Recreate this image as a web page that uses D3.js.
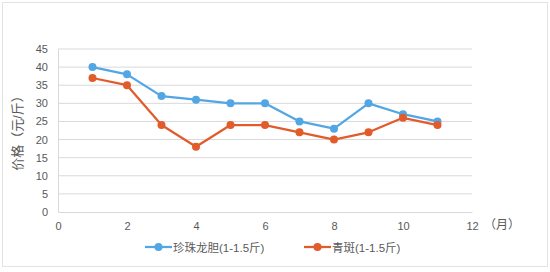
<!DOCTYPE html>
<html><head><meta charset="utf-8">
<script src="https://cdn.jsdelivr.net/npm/d3@7"></script>
<style>body{margin:0;background:#fff;}svg{display:block;}</style>
</head><body>
<svg id="c" width="550" height="272"></svg>
<script>
const months = [1,2,3,4,5,6,7,8,9,10,11];
const pearl = [40,38,32,31,30,30,25,23,30,27,25];
const qingban = [37,35,24,18,24,24,22,20,22,26,24];
const xTicks = [0,2,4,6,8,10,12];
const yTicks = [0,5,10,15,20,25,30,35,40,45];
const seriesNames = ["珍珠龙胆(1-1.5斤)","青斑(1-1.5斤)"];
const colors = ["#53A6E4","#E25B2B"];

const svg = d3.select("#c");
const font = "'Liberation Sans','Noto Sans CJK SC',sans-serif";
svg.append("rect").attr("x",2.5).attr("y",2.5).attr("width",545).attr("height",264)
  .attr("fill","#fff").attr("stroke","#e3e3e3");

const x = d3.scaleLinear().domain([0,12]).range([58,472]);
const y = d3.scaleLinear().domain([0,45]).range([212,49]);

svg.append("g").selectAll("line").data(yTicks.filter(d=>d>0)).join("line")
  .attr("x1",x(0)).attr("x2",x(12)).attr("y1",d=>y(d)).attr("y2",d=>y(d))
  .attr("stroke","#d9d9d9").attr("stroke-width",1);

const yAxis = svg.append("g").attr("transform",`translate(${x(0)},0)`)
  .call(d3.axisLeft(y).tickValues(yTicks).tickSize(0).tickPadding(10));
yAxis.select(".domain").attr("stroke","#d9d9d9");
yAxis.selectAll("text").attr("fill","#595959").attr("font-size",11).attr("font-family",font);

const xAxis = svg.append("g").attr("transform",`translate(0,${y(0)})`)
  .call(d3.axisBottom(x).tickValues(xTicks).tickSize(0).tickPadding(10));
xAxis.select(".domain").attr("stroke","#d9d9d9");
xAxis.selectAll("text").attr("fill","#595959").attr("font-size",11).attr("font-family",font);

svg.append("text").attr("x",484).attr("y",229).attr("fill","#595959")
  .attr("font-size",12).attr("font-family",font).text("（月）");

svg.append("text").attr("transform","translate(22,130) rotate(-90)")
  .attr("text-anchor","middle").attr("fill","#595959").attr("font-size",13)
  .attr("font-family",font).text("价格（元/斤）");

const line = d3.line().x((d,i)=>x(months[i])).y(d=>y(d));
[pearl,qingban].forEach((s,k)=>{
  svg.append("path").datum(s).attr("d",line).attr("fill","none")
    .attr("stroke",colors[k]).attr("stroke-width",2.25).attr("stroke-linejoin","round");
  svg.append("g").selectAll("circle").data(s).join("circle")
    .attr("cx",(d,i)=>x(months[i])).attr("cy",d=>y(d)).attr("r",4).attr("fill",colors[k]);
});

const leg = [{x:145,tx:173},{x:304,tx:332}];
leg.forEach((l,k)=>{
  const g = svg.append("g");
  g.append("line").attr("x1",l.x).attr("x2",l.x+27).attr("y1",247).attr("y2",247)
    .attr("stroke",colors[k]).attr("stroke-width",2.25);
  g.append("circle").attr("cx",l.x+13.5).attr("cy",247).attr("r",4).attr("fill",colors[k]);
  g.append("text").attr("x",l.tx).attr("y",251.5).attr("fill","#595959")
    .attr("font-size",11.5).attr("font-family",font).text(seriesNames[k]);
});
</script>
</body></html>
